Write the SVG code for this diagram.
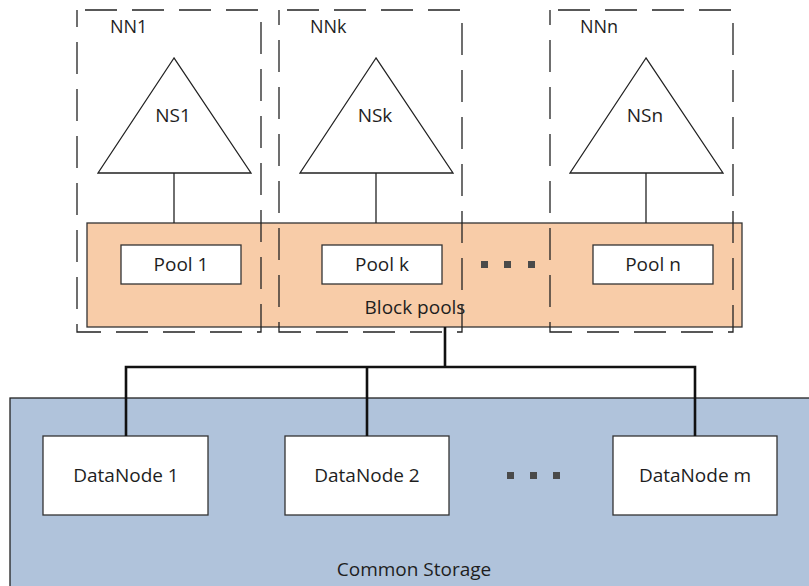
<svg xmlns="http://www.w3.org/2000/svg" width="809" height="586" viewBox="0 0 809 586">
<style>
text{font-family:"Open Sans","Liberation Sans",sans-serif;fill:#1e1e1e;font-size:19px}
.lbl{font-size:18px}
.mid{text-anchor:middle}
.box{fill:#fff;stroke:#333;stroke-width:1.3}
.dash{fill:none;stroke:#222;stroke-width:1.3;stroke-dasharray:32 15;stroke-dashoffset:39}
.tri{fill:#fff;stroke:#222;stroke-width:1.3}
.thin{stroke:#222;stroke-width:1.3;fill:none}
.bus{stroke:#111;stroke-width:2.6;fill:none}
.dot{fill:#4a4a4a}
</style>
<g id="common-storage">
<rect x="10" y="398" width="810" height="200" fill="#b0c3db" stroke="#222" stroke-width="1.3"/>
<text class="mid" x="414" y="576">Common Storage</text>
</g>
<g id="block-pools">
<rect x="87" y="223" width="655" height="104" fill="#f8cca8" stroke="#333" stroke-width="1.3"/>
<text class="mid" x="415" y="314">Block pools</text>
</g>
<g id="pool1"><rect class="box" x="121" y="245" width="120" height="39"/><text class="mid" x="181" y="271">Pool 1</text></g>
<g id="poolk"><rect class="box" x="322" y="245" width="120" height="39"/><text class="mid" x="382" y="271">Pool k</text></g>
<g id="pooln"><rect class="box" x="593" y="245" width="120" height="39"/><text class="mid" x="653" y="271">Pool n</text></g>
<g id="pool-dots"><rect class="dot" x="481" y="261" width="7" height="7"/><rect class="dot" x="504" y="261" width="7" height="7"/><rect class="dot" x="528" y="261" width="7" height="7"/></g>
<g id="nn1">
<rect class="dash" x="77" y="10" width="184" height="322"/>
<text class="lbl" x="110" y="33">NN1</text>
<polygon class="tri" points="174,58 98,173 251,173"/>
<text class="mid" x="173" y="122">NS1</text>
</g>
<g id="nnk">
<rect class="dash" x="279" y="10" width="183" height="322"/>
<text class="lbl" x="310" y="33">NNk</text>
<polygon class="tri" points="376,58 300,173 453,173"/>
<text class="mid" x="375" y="122">NSk</text>
</g>
<g id="nnn">
<rect class="dash" x="550" y="10" width="183" height="322"/>
<text class="lbl" x="580" y="33">NNn</text>
<polygon class="tri" points="646,58 570,173 723,173"/>
<text class="mid" x="645" y="122">NSn</text>
</g>
<g id="dn1"><rect class="box" x="43" y="436" width="165" height="79"/><text class="mid" x="126" y="482">DataNode 1</text></g>
<g id="dn2"><rect class="box" x="285" y="436" width="164" height="79"/><text class="mid" x="367" y="482">DataNode 2</text></g>
<g id="dnm"><rect class="box" x="613" y="436" width="164" height="79"/><text class="mid" x="695" y="482">DataNode m</text></g>
<g id="dn-dots"><rect class="dot" x="507" y="472" width="7" height="7"/><rect class="dot" x="530" y="472" width="7" height="7"/><rect class="dot" x="553" y="472" width="7" height="7"/></g>
<g id="connectors">
<line class="thin" x1="174" y1="173" x2="174" y2="223"/>
<line class="thin" x1="376" y1="173" x2="376" y2="223"/>
<line class="thin" x1="646" y1="173" x2="646" y2="223"/>
<path class="bus" d="M445 327V367M126 436V367H695V436M367 367V436"/>
</g>
</svg>
